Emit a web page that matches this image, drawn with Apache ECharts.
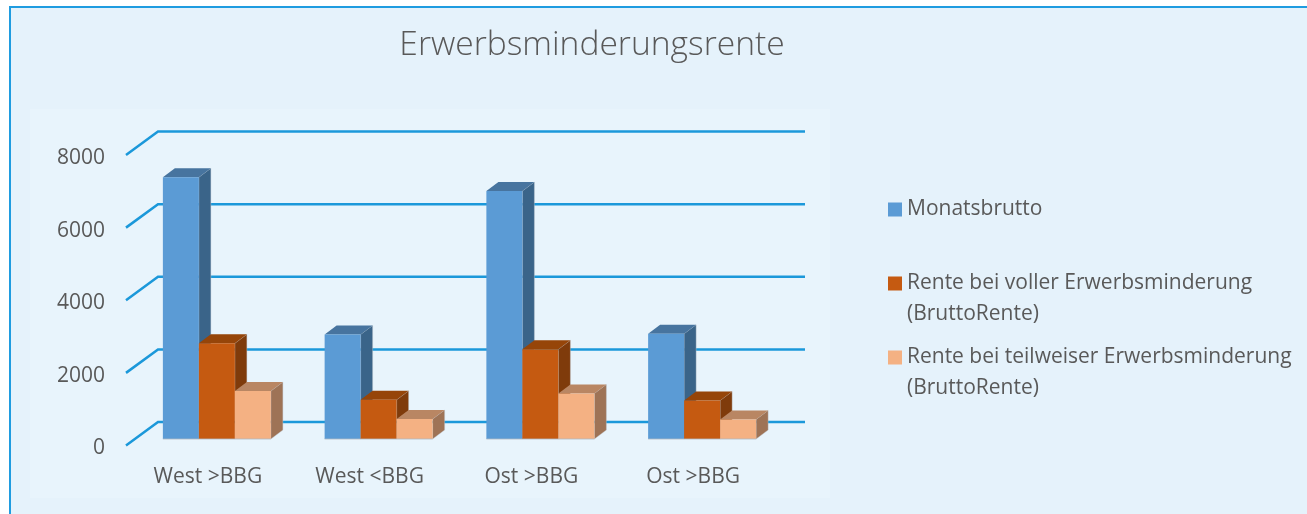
<!DOCTYPE html>
<html>
<head>
<meta charset="utf-8">
<title>Erwerbsminderungsrente</title>
<style>
    html, body { margin: 0; padding: 0; background: #fff; }
    #main { width: 1307px; height: 514px; }
</style>
<script src="https://cdn.jsdelivr.net/npm/echarts@6/dist/echarts.min.js"></script>
</head>
<body>
<div id="main"></div>
<script>
    var categories = ['West >BBG', 'West <BBG', 'Ost >BBG', 'Ost >BBG'];
    var monatsbrutto = [7210, 2880, 6830, 2900];
    var volleRente = [2635, 1080, 2470, 1060];
    var teilRente = [1320, 550, 1255, 540];
    var yTicks = [0, 2000, 4000, 6000, 8000];

    var font = '"Open Sans", "Noto Sans", sans-serif';
    var textColor = '#595959';
    var lineColor = '#1b98da';

    // faces of one bar: front, side, top
    var blue = ['#5b9bd5', '#3a6489', '#47749f'];
    var orange = ['#c55a11', '#7f3b0b', '#964509'];
    var peach = ['#f4b183', '#9e7356', '#b98663'];

    var barWidth = 36;
    var barDepthX = 12;
    var barDepthY = 9;
    var floorShiftX = 10;
    var floorShiftY = 6.5;
    var wallDepthX = 32;
    var wallDepthY = 23.5;

    function renderWall(params, api) {
        var p = api.coord([0, api.value(1)]);
        var rect = params.coordSys;
        var left = rect.x;
        var right = rect.x + rect.width;
        return {
            type: 'polyline',
            silent: true,
            shape: {
                points: [
                    [left, p[1]],
                    [left + wallDepthX, p[1] - wallDepthY],
                    [right + wallDepthX, p[1] - wallDepthY]
                ]
            },
            style: { stroke: lineColor, lineWidth: 2.5, fill: null }
        };
    }

    function makeRenderBar(idx, colors) {
        return function(params, api) {
            var top = api.coord([api.value(0), api.value(1)]);
            var base = api.coord([api.value(0), 0]);
            var x0 = top[0] + floorShiftX + (idx - 1.5) * barWidth;
            var x1 = x0 + barWidth;
            var y0 = top[1] - floorShiftY;
            var y1 = base[1] - floorShiftY;
            var dx = barDepthX;
            var dy = barDepthY;
            return {
                type: 'group',
                children: [{
                    type: 'polygon',
                    shape: { points: [[x1, y0], [x1 + dx, y0 - dy], [x1 + dx, y1 - dy], [x1, y1]] },
                    style: { fill: colors[1], stroke: 'rgba(190,198,205,0.4)', lineWidth: 1 }
                }, {
                    type: 'polygon',
                    shape: { points: [[x0, y0], [x0 + dx, y0 - dy], [x1 + dx, y0 - dy], [x1, y0]] },
                    style: { fill: colors[2] }
                }, {
                    type: 'rect',
                    shape: { x: x0, y: y0, width: barWidth, height: y1 - y0 },
                    style: { fill: colors[0] }
                }, {
                    type: 'line',
                    shape: { x1: x0, y1: y1, x2: x1, y2: y1 },
                    style: { stroke: 'rgba(175,185,195,0.8)', lineWidth: 1 }
                }]
            };
        };
    }

    function getBarSeries(name, idx, values, colors) {
        return {
            name: name,
            type: 'custom',
            coordinateSystem: 'cartesian2d',
            z: 3,
            itemStyle: { color: colors[0] },
            encode: { x: 0, y: 1 },
            renderItem: makeRenderBar(idx, colors),
            data: values.map(function(v, i) {
                return [i, v];
            })
        };
    }

    function getLegend(name, color, top) {
        return {
            left: 888,
            top: top,
            padding: 0,
            itemWidth: 14,
            itemHeight: 14,
            itemGap: 0,
            selectedMode: false,
            textStyle: { fontFamily: font, fontSize: 21, color: textColor, padding: [2, 0, 0, 0] },
            data: [{ name: name, icon: 'rect', itemStyle: { color: color } }]
        };
    }

    function getLegendLine2(top) {
        return {
            type: 'text',
            left: 907,
            top: top,
            z: 5,
            style: { text: '(BruttoRente)', font: '21px ' + font, fill: textColor }
        };
    }

    var chart = echarts.init(document.getElementById('main'), null, { renderer: 'canvas' });

    chart.setOption({
        animation: false,
        backgroundColor: '#ffffff',
        title: {
            text: 'Erwerbsminderungsrente',
            left: 587,
            textAlign: 'center',
            top: 23,
            textStyle: { fontFamily: font, fontSize: 33.6, fontWeight: 300, color: textColor }
        },
        grid: { left: 126, right: 534, top: 155, bottom: 68.5 },
        xAxis: {
            type: 'category',
            data: categories,
            axisLine: { show: false },
            axisTick: { show: false },
            axisLabel: { fontFamily: font, fontSize: 21, color: textColor, margin: 21, padding: [0, 0, 0, 2] }
        },
        yAxis: {
            type: 'value',
            min: 0,
            max: 8000,
            interval: 2000,
            axisLine: { show: false },
            axisTick: { show: false },
            splitLine: { show: false },
            axisLabel: {
                fontFamily: font,
                fontSize: 21,
                color: textColor,
                margin: 21,
                verticalAlign: 'top',
                lineHeight: 6,
                formatter: function(v) {
                    return String(v);
                }
            }
        },
        legend: [
            getLegend('Monatsbrutto', blue[0], 199),
            getLegend('Rente bei voller Erwerbsminderung', orange[0], 273),
            getLegend('Rente bei teilweiser Erwerbsminderung', peach[0], 347)
        ],
        graphic: [{
            type: 'rect',
            z: -10,
            shape: { x: 10, y: 7, width: 1300, height: 510 },
            style: { fill: '#e5f2fb', stroke: '#1f9ce0', lineWidth: 2 }
        }, {
            type: 'rect',
            z: -9,
            shape: { x: 30, y: 109, width: 800, height: 389 },
            style: { fill: '#e8f4fc' }
        }, getLegendLine2(304), getLegendLine2(378)],
        series: [{
            type: 'custom',
            coordinateSystem: 'cartesian2d',
            z: 1,
            silent: true,
            encode: { x: 0, y: 1 },
            renderItem: renderWall,
            data: yTicks.map(function(t) {
                return [0, t];
            })
        },
            getBarSeries('Monatsbrutto', 0, monatsbrutto, blue),
            getBarSeries('Rente bei voller Erwerbsminderung', 1, volleRente, orange),
            getBarSeries('Rente bei teilweiser Erwerbsminderung', 2, teilRente, peach)
        ]
    });
</script>
</body>
</html>
